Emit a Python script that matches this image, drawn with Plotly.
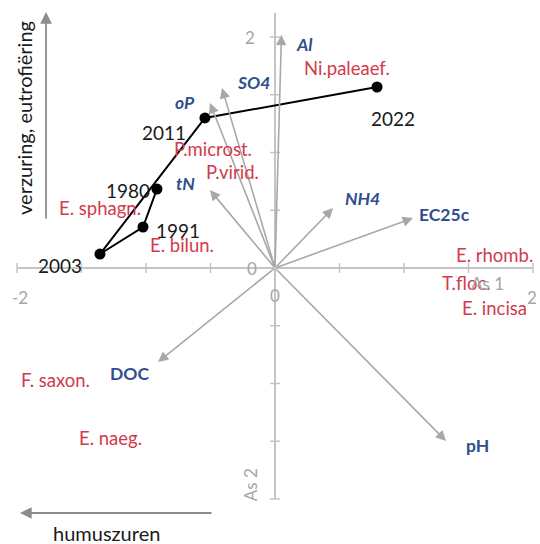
import plotly.graph_objects as go

# Sample trajectory through time (site scores on axes 1 and 2)
years = ["1980", "1991", "2003", "2011", "2022"]
year_x = [-0.915, -1.023, -1.357, -0.543, 0.791]
year_y = [0.684, 0.355, 0.121, 1.299, 1.567]

# Environmental variables (biplot arrows)
env_names = ["Al", "SO4", "oP", "tN", "NH4", "EC25c", "pH", "DOC"]
env_x = [0.05, -0.411, -0.504, -0.504, 0.450, 1.070, 1.326, -0.907]
env_y = [2.02, 1.558, 1.429, 0.675, 0.519, 0.433, -1.498, -0.814]
env_italic = [True, True, True, True, True, False, False, False]

# Species scores
species = ["Ni.paleaef.", "P.microst.", "P.virid.", "E. sphagn.", "E. bilun.",
           "E. rhomb.", "T.floc.", "E. incisa", "F. saxon.", "E. naeg."]
sp_x = [0.558, -0.481, -0.333, -1.357, -0.721, 1.705, 1.481, 1.705, -1.705, -1.279]
sp_y = [1.732, 1.030, 0.831, 0.519, 0.199, 0.113, -0.130, -0.346, -0.970, -1.472]

# Axis ticks
ticks = [-2, -1.5, -1, -0.5, 0, 0.5, 1, 1.5, 2]

FONT = "Lato"
AXIS_C = "#C4C4C4"
ARROW_C = "#A8A8A8"
BLUE = "#2F4F8F"
RED = "#D23A4C"
TICK_C = "#A6A6A6"

W, H = 540, 544
PX_X, PX_Y = 129.0, 115.5  # pixels per unit
X0 = -275 / PX_X
Y1 = 268 / PX_Y
xr = [X0, X0 + W / PX_X]
yr = [Y1 - H / PX_Y, Y1]

fig = go.Figure()

# Axis lines through the origin
fig.add_trace(go.Scatter(x=[-2, 2], y=[0, 0], mode="lines",
                         line=dict(color=AXIS_C, width=2), hoverinfo="skip"))
fig.add_trace(go.Scatter(x=[0, 0], y=[-2, 2.21], mode="lines",
                         line=dict(color=AXIS_C, width=2), hoverinfo="skip"))
# Tick marks
dx = 5 / PX_X
dy = 5 / PX_Y
tx, ty = [], []
for t in ticks:
    tx += [t, t, None]
    ty += [-dy, dy, None]
    tx += [-dx, dx, None]
    ty += [t, t, None]
fig.add_trace(go.Scatter(x=tx, y=ty, mode="lines",
                         line=dict(color=AXIS_C, width=1.5), hoverinfo="skip"))

# Trajectory
fig.add_trace(go.Scatter(x=year_x, y=year_y, mode="lines+markers",
                         line=dict(color="black", width=2),
                         marker=dict(color="black", size=11), hoverinfo="skip"))

ann = []

# Environmental arrows
for x, y in zip(env_x, env_y):
    ann.append(dict(x=x, y=y, ax=0, ay=0, xref="x", yref="y", axref="x", ayref="y",
                    text="", showarrow=True, arrowhead=2, arrowsize=1.3,
                    arrowwidth=1.6, arrowcolor=ARROW_C, standoff=0))

env_off = {"Al": (23, -10), "SO4": (32, 6), "oP": (-25, 0), "tN": (-24, 7),
           "NH4": (29, 10), "EC25c": (31, 3), "pH": (31, -4), "DOC": (-29, -11)}
for n, x, y, it in zip(env_names, env_x, env_y, env_italic):
    sx, sy = env_off[n]
    txt = f"<b><i>{n}</i></b>" if it else f"<b>{n}</b>"
    ann.append(dict(x=x, y=y, xref="x", yref="y", text=txt, showarrow=False,
                    xshift=sx, yshift=sy, font=dict(family=FONT, size=17.5, color=BLUE)))

# Species labels
for n, x, y in zip(species, sp_x, sp_y):
    ann.append(dict(x=x, y=y, xref="x", yref="y", text=n, showarrow=False,
                    font=dict(family=FONT, size=18.5, color=RED)))

# Year labels
year_off = {"1980": (-29, -1), "1991": (35, -3), "2003": (-40, -11),
            "2011": (-41, -15), "2022": (16, -31)}
for n, x, y in zip(years, year_x, year_y):
    sx, sy = year_off[n]
    ann.append(dict(x=x, y=y, xref="x", yref="y", text=n, showarrow=False,
                    xshift=sx, yshift=sy, font=dict(family=FONT, size=19, color="#1A1A1A")))

# Tick labels
tick_font = dict(family=FONT, size=17, color=TICK_C)
ann += [
    dict(x=-2, y=0, xref="x", yref="y", text="-2", showarrow=False, xshift=3, yshift=-29, font=tick_font),
    dict(x=0, y=0, xref="x", yref="y", text="0", showarrow=False, xshift=0, yshift=-27, font=tick_font),
    dict(x=2, y=0, xref="x", yref="y", text="2", showarrow=False, xshift=-1, yshift=-29, font=tick_font),
    dict(x=0, y=0, xref="x", yref="y", text="0", showarrow=False, xshift=-23, yshift=0, font=tick_font),
    dict(x=0, y=2, xref="x", yref="y", text="2", showarrow=False, xshift=-25, yshift=0, font=tick_font),
    dict(x=1.65, y=0, xref="x", yref="y", text="As 1", showarrow=False, yshift=-15, font=tick_font),
    dict(x=0, y=-1.88, xref="x", yref="y", text="As 2", showarrow=False, xshift=-25,
         textangle=-90, font=tick_font),
]

# Interpretation arrows along the edges
ann.append(dict(x=-1.775, y=2.216, ax=-1.775, ay=0.416, xref="x", yref="y",
                axref="x", ayref="y", text="", showarrow=True, arrowhead=2,
                arrowsize=1.3, arrowwidth=1.8, arrowcolor="#8C8C8C", standoff=0))
ann.append(dict(x=-1.977, y=-2.121, ax=-0.481, ay=-2.121, xref="x", yref="y",
                axref="x", ayref="y", text="", showarrow=True, arrowhead=2,
                arrowsize=1.3, arrowwidth=1.8, arrowcolor="#8C8C8C", standoff=0))
ann.append(dict(x=-1.945, y=1.3, xref="x", yref="y", text="verzuring, eutrofiëring",
                showarrow=False, textangle=-90, font=dict(family=FONT, size=20, color="#1A1A1A")))
ann.append(dict(x=-1.31, y=-2.295, xref="x", yref="y", text="humuszuren",
                showarrow=False, font=dict(family=FONT, size=20, color="#1A1A1A")))

fig.update_layout(
    width=W, height=H, margin=dict(l=0, r=0, t=0, b=0),
    paper_bgcolor="white", plot_bgcolor="white", showlegend=False,
    xaxis=dict(range=xr, visible=False, fixedrange=True),
    yaxis=dict(range=yr, visible=False, fixedrange=True),
    annotations=ann,
)

fig.write_html("out.html")
